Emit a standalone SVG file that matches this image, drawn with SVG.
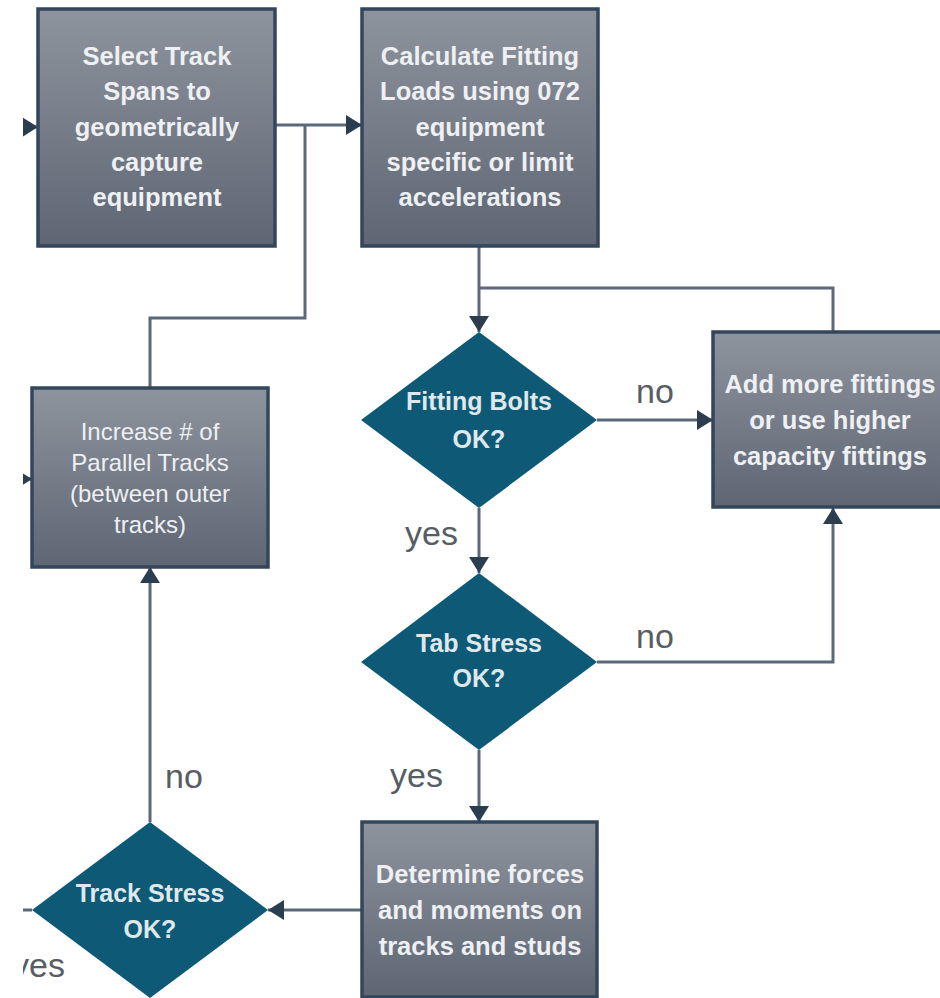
<svg xmlns="http://www.w3.org/2000/svg" width="940" height="998" viewBox="0 0 940 998">
<defs>
<linearGradient id="boxg" x1="0" y1="0" x2="0" y2="1">
<stop offset="0" stop-color="#8e949d"/>
<stop offset="1" stop-color="#5e6674"/>
</linearGradient>
<marker id="ah" viewBox="0 0 16 20" refX="16" refY="10" markerWidth="16" markerHeight="20" markerUnits="userSpaceOnUse" orient="auto">
<path d="M0,0 L16,10 L0,20 z" fill="#2c3d50"/>
</marker>
<clipPath id="cl"><rect x="23" y="0" width="917" height="998"/></clipPath>
</defs>
<style>
.box{fill:url(#boxg);stroke:#33465b;stroke-width:3.5}
.dia{fill:#0e5a76}
.bt{font-family:"Liberation Sans",Arial,sans-serif;font-weight:bold;font-size:25.5px;fill:#eef0f3;text-anchor:middle}
.bt3{font-family:"Liberation Sans",Arial,sans-serif;font-size:24px;fill:#eef0f3;text-anchor:middle}
.dt{font-family:"Liberation Sans",Arial,sans-serif;font-weight:bold;font-size:25px;fill:#dfe8ec;text-anchor:middle}
.lb{font-family:"Liberation Sans",Arial,sans-serif;font-size:34px;fill:#585d64}
.cn{fill:none;stroke:#5b6878;stroke-width:3}
</style>
<g clip-path="url(#cl)">
<g id="connectors">
<path class="cn" d="M0,127 L38,127" marker-end="url(#ah)"/>
<path class="cn" d="M0,479 L32,479" marker-end="url(#ah)"/>
<path class="cn" d="M275,125 L362,125" marker-end="url(#ah)"/>
<path class="cn" d="M150,388 L150,318 L305,318 L305,125"/>
<path class="cn" d="M479,246 L479,332" marker-end="url(#ah)"/>
<path class="cn" d="M833,332 L833,288 L479,288"/>
<path class="cn" d="M597,420 L713,420" marker-end="url(#ah)"/>
<path class="cn" d="M479,508 L479,573" marker-end="url(#ah)"/>
<path class="cn" d="M597,662 L833,662 L833,508" marker-end="url(#ah)"/>
<path class="cn" d="M479,750 L479,822" marker-end="url(#ah)"/>
<path class="cn" d="M362,910 L268,910" marker-end="url(#ah)"/>
<path class="cn" d="M150,822 L150,567" marker-end="url(#ah)"/>
<path class="cn" d="M32,910 L0,910"/>
</g>
<g id="labels">
<text class="lb" x="636" y="403">no</text>
<text class="lb" x="405" y="545">yes</text>
<text class="lb" x="636" y="648">no</text>
<text class="lb" x="390" y="787">yes</text>
<text class="lb" x="165" y="788">no</text>
<text class="lb" x="12" y="977">yes</text>
</g>
<g id="n1">
<rect class="box" x="38" y="9" width="237" height="237"/>
<text class="bt" x="157" y="65">Select Track</text>
<text class="bt" x="157" y="100">Spans to</text>
<text class="bt" x="157" y="136">geometrically</text>
<text class="bt" x="157" y="171">capture</text>
<text class="bt" x="157" y="206">equipment</text>
</g>
<g id="n2">
<rect class="box" x="362" y="9" width="236" height="237"/>
<text class="bt" x="480" y="65">Calculate Fitting</text>
<text class="bt" x="480" y="100">Loads using 072</text>
<text class="bt" x="480" y="136">equipment</text>
<text class="bt" x="480" y="171">specific or limit</text>
<text class="bt" x="480" y="206">accelerations</text>
</g>
<g id="n3">
<rect class="box" x="32" y="388" width="236" height="179"/>
<text class="bt3" x="150" y="440">Increase # of</text>
<text class="bt3" x="150" y="471">Parallel Tracks</text>
<text class="bt3" x="150" y="502">(between outer</text>
<text class="bt3" x="150" y="533">tracks)</text>
</g>
<g id="n4">
<rect class="box" x="713" y="332" width="234" height="175"/>
<text class="bt" x="830" y="393">Add more fittings</text>
<text class="bt" x="830" y="429">or use higher</text>
<text class="bt" x="830" y="465">capacity fittings</text>
</g>
<g id="d1">
<polygon class="dia" points="479,332 597,420 479,508 361,420"/>
<text class="dt" x="479" y="410">Fitting Bolts</text>
<text class="dt" x="479" y="448">OK?</text>
</g>
<g id="d2">
<polygon class="dia" points="479,573 597,662 479,750 361,662"/>
<text class="dt" x="479" y="652">Tab Stress</text>
<text class="dt" x="479" y="687">OK?</text>
</g>
<g id="n5">
<rect class="box" x="362" y="822" width="235" height="175"/>
<text class="bt" x="480" y="883">Determine forces</text>
<text class="bt" x="480" y="919">and moments on</text>
<text class="bt" x="480" y="955">tracks and studs</text>
</g>
<g id="d3">
<polygon class="dia" points="150,822 268,910 150,998 32,910"/>
<text class="dt" x="150" y="902">Track Stress</text>
<text class="dt" x="150" y="938">OK?</text>
</g>
</g>
</svg>
